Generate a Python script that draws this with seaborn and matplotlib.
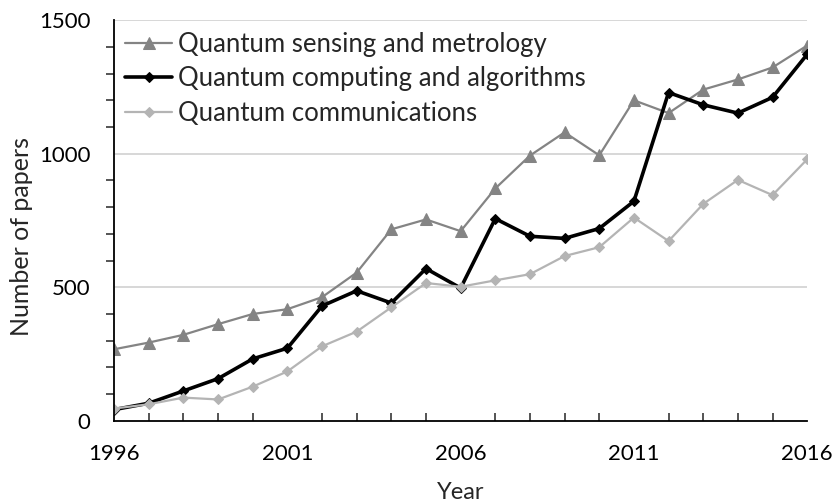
import numpy as np
import pandas as pd
import matplotlib
matplotlib.use("Agg")
import matplotlib.pyplot as plt
import seaborn as sns
from matplotlib.ticker import MultipleLocator

years = list(range(1996, 2017))
sensing = [268, 293, 322, 362, 400, 418, 463, 555, 717, 754, 710, 870, 993, 1080, 994, 1200, 1152, 1240, 1278, 1323, 1405]
computing = [42, 66, 112, 158, 232, 272, 430, 487, 441, 570, 497, 757, 691, 683, 720, 822, 1229, 1183, 1152, 1211, 1372]
comms = [46, 62, 87, 80, 128, 185, 279, 334, 425, 516, 502, 526, 549, 617, 650, 761, 673, 812, 902, 845, 979]
labels = ["Quantum sensing and metrology", "Quantum computing and algorithms", "Quantum communications"]

sns.set_style("white")
plt.rcParams['font.family'] = ['Lato', 'DejaVu Sans']

fig = plt.figure(figsize=(8.33, 5.04), dpi=100)
ax = fig.add_axes([0.137, 0.165, 0.832, 0.795])

df = pd.DataFrame({"Year": years, "s": sensing, "c": computing, "m": comms})

sns.lineplot(data=df, x="Year", y="s", ax=ax, color="#848484", marker="^", markersize=8,
             linewidth=1.6, markeredgecolor="#848484", label=labels[0])
sns.lineplot(data=df, x="Year", y="c", ax=ax, color="#000000", marker="D", markersize=5.5,
             linewidth=2.6, markeredgecolor="#000000", label=labels[1])
sns.lineplot(data=df, x="Year", y="m", ax=ax, color="#b4b4b4", marker="D", markersize=5.5,
             linewidth=1.6, markeredgecolor="#b4b4b4", label=labels[2])

ax.set_xlim(1996, 2016)
ax.set_ylim(0, 1500)
ax.set_xticks([1996, 2001, 2006, 2011, 2016])
ax.xaxis.set_minor_locator(MultipleLocator(1))
ax.set_yticks([0, 500, 1000, 1500])
ax.yaxis.set_minor_locator(MultipleLocator(100))
for y in [500, 1000, 1500]:
    ax.axhline(y, color="#d4d4d4", linewidth=1.3, zorder=0)

for s in ["top", "right"]:
    ax.spines[s].set_visible(False)
for s in ["left", "bottom"]:
    ax.spines[s].set_color("black")
    ax.spines[s].set_linewidth(1.3)
ax.spines["left"].set_zorder(5)

ax.tick_params(axis="both", which="major", direction="inout", length=12, width=1.3,
               labelsize=16, colors="black")
ax.tick_params(axis="x", which="major", pad=11)
ax.tick_params(axis="y", which="major", pad=11)
ax.tick_params(axis="x", which="minor", direction="in", length=6, width=1.1, bottom=True)
ax.tick_params(axis="y", which="minor", direction="out", length=6, width=1.1, left=True)

ax.set_xlabel("Year", fontsize=17)
ax.set_ylabel("Number of papers", fontsize=18)
ax.yaxis.set_label_coords(-0.117, 0.461)
ax.xaxis.set_label_coords(0.5, -0.152)

ax.legend(loc="upper left", frameon=False, fontsize=18.5, bbox_to_anchor=(0.016, 0.97),
          handlelength=1.83, handletextpad=0.23, labelspacing=0.36, borderaxespad=0,
          borderpad=0)

fig.savefig("out.png", dpi=100)
